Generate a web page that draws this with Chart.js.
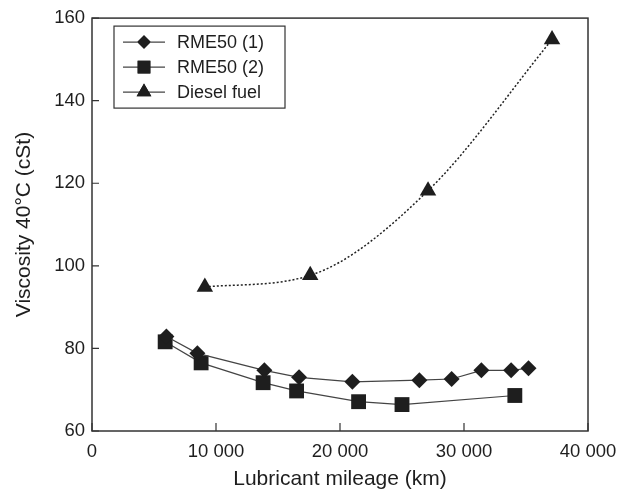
<!DOCTYPE html>
<html>
<head>
<meta charset="utf-8">
<script src="https://cdn.jsdelivr.net/npm/chart.js@4"></script>
<style>
  html, body { margin: 0; padding: 0; background: #fff; }
  #wrap { width: 634px; height: 493px; }
</style>
</head>
<body>
<div id="wrap"><canvas id="chart" width="634" height="493"></canvas></div>
<script>
'use strict';

// ── Data ──────────────────────────────────────────────────────────────────────
const LABELS     = ['RME50 (1)', 'RME50 (2)', 'Diesel fuel'];
const MILEAGE_1  = [6000, 8500, 13900, 16700, 21000, 26400, 29000, 31400, 33800, 35200];
const VISC_1     = [82.9, 78.8, 74.7, 73.0, 71.9, 72.3, 72.6, 74.7, 74.7, 75.2];
const MILEAGE_2  = [5900, 8800, 13800, 16500, 21500, 25000, 34100];
const VISC_2     = [81.6, 76.5, 71.7, 69.7, 67.1, 66.4, 68.6];
const MILEAGE_D  = [9100, 17600, 27100, 37100];
const VISC_D     = [94.9, 97.7, 118.2, 154.8];
const X_TICKS    = [0, 10000, 20000, 30000, 40000];
const Y_TICKS    = [60, 80, 100, 120, 140, 160];

const FONT = "'Liberation Sans', Arial, sans-serif";
const INK  = '#1e1e1e';

function pts(xs, ys) { return xs.map((x, i) => ({ x, y: ys[i] })); }
function fmt(v) { return String(v).replace(/\B(?=(\d{3})+(?!\d))/g, ' '); }

// ── Frame, inward ticks and boxed legend ─────────────────────────────────────
const framePlugin = {
  id: 'frame',
  afterDatasetsDraw(chart) {
    const { ctx, chartArea: a, scales } = chart;
    ctx.save();
    ctx.strokeStyle = '#333';
    ctx.lineWidth = 1.5;
    ctx.strokeRect(a.left, a.top, a.right - a.left, a.bottom - a.top);
    ctx.lineWidth = 1.2;
    ctx.beginPath();
    X_TICKS.forEach(v => {
      const x = scales.x.getPixelForValue(v);
      ctx.moveTo(x, a.bottom); ctx.lineTo(x, a.bottom - 8);
    });
    Y_TICKS.forEach(v => {
      const y = scales.y.getPixelForValue(v);
      ctx.moveTo(a.left, y); ctx.lineTo(a.left + 7, y);
    });
    ctx.stroke();

    // legend box
    const bx = a.left + 22, by = a.top + 8, bw = 171, bh = 82;
    ctx.fillStyle = '#fff';
    ctx.fillRect(bx, by, bw, bh);
    ctx.lineWidth = 1.2;
    ctx.strokeStyle = '#333';
    ctx.strokeRect(bx, by, bw, bh);
    ctx.font = '18px ' + FONT;
    ctx.textBaseline = 'middle';
    chart.data.datasets.forEach((ds, i) => {
      const y = by + 16 + i * 25;
      ctx.strokeStyle = '#444';
      ctx.lineWidth = 1.2;
      ctx.setLineDash([]);
      ctx.beginPath();
      ctx.moveTo(bx + 9, y); ctx.lineTo(bx + 51, y);
      ctx.stroke();
      Chart.helpers.drawPoint(ctx, {
        pointStyle: ds.pointStyle, radius: ds.legendRadius, rotation: 0, borderWidth: 0
      }, bx + 30, y);
      ctx.fillStyle = INK;
      ctx.fill();
      ctx.fillText(ds.label, bx + 63, y + 1);
    });
    ctx.restore();
  }
};

// ── Chart ─────────────────────────────────────────────────────────────────────
new Chart(document.getElementById('chart').getContext('2d'), {
  type: 'scatter',
  data: {
    datasets: [
      {
        label: LABELS[0], data: pts(MILEAGE_1, VISC_1), showLine: true,
        borderColor: '#444', borderWidth: 1.2, tension: 0,
        pointStyle: 'rectRot', pointRadius: 8, legendRadius: 7,
        pointBackgroundColor: INK, pointBorderWidth: 0
      },
      {
        label: LABELS[1], data: pts(MILEAGE_2, VISC_2), showLine: true,
        borderColor: '#444', borderWidth: 1.2, tension: 0,
        pointStyle: 'rect', pointRadius: 10.5, legendRadius: 9,
        pointBackgroundColor: INK, pointBorderWidth: 0
      },
      {
        label: LABELS[2], data: pts(MILEAGE_D, VISC_D), showLine: true,
        borderColor: '#222', borderWidth: 1.5, borderDash: [2, 2],
        cubicInterpolationMode: 'monotone',
        pointStyle: 'triangle', pointRadius: 9.5, legendRadius: 8.5,
        pointBackgroundColor: INK, pointBorderWidth: 0
      }
    ]
  },
  options: {
    responsive: false,
    animation: false,
    layout: { padding: { left: 0, top: 17, right: 46, bottom: 0 } },
    plugins: { legend: { display: false }, tooltip: { enabled: false } },
    scales: {
      x: {
        type: 'linear', min: 0, max: 40000,
        afterBuildTicks: s => { s.ticks = X_TICKS.map(v => ({ value: v })); },
        afterFit: s => { s.height = 62; },
        grid: { display: false, drawTicks: false },
        border: { display: false },
        ticks: { color: INK, padding: 10, font: { family: FONT, size: 18.5 }, callback: v => fmt(v) },
        title: { display: true, text: 'Lubricant mileage (km)', color: INK,
                 font: { family: FONT, size: 21 }, padding: { top: 0, bottom: 1 } }
      },
      y: {
        type: 'linear', min: 60, max: 160,
        afterBuildTicks: s => { s.ticks = Y_TICKS.map(v => ({ value: v })); },
        afterFit: s => { s.width = 92; },
        grid: { display: false, drawTicks: false },
        border: { display: false },
        ticks: { color: INK, padding: 7, font: { family: FONT, size: 18.5 } },
        title: { display: true, text: 'Viscosity 40°C (cSt)', color: INK,
                 font: { family: FONT, size: 21 }, padding: { top: 12, bottom: 0 } }
      }
    }
  },
  plugins: [framePlugin]
});
</script>
</body>
</html>
